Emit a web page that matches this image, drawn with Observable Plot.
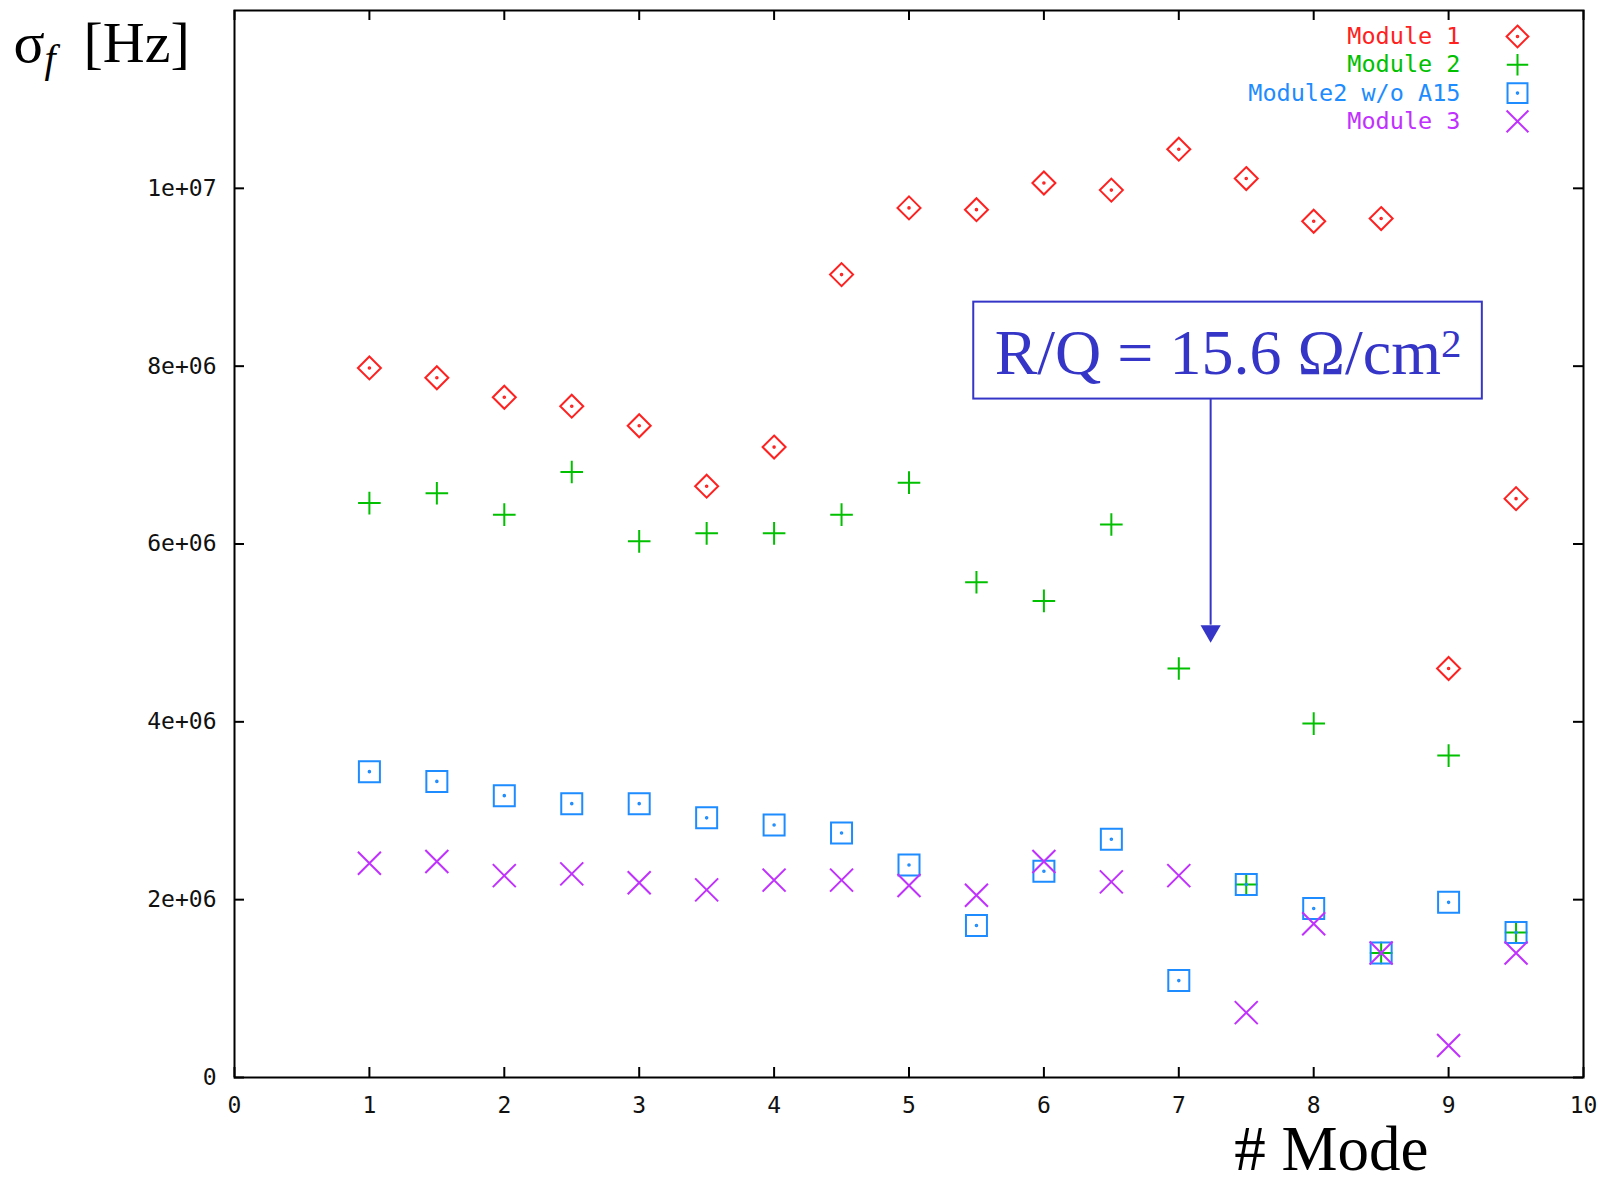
<!DOCTYPE html>
<html><head><meta charset="utf-8">
<script src="https://cdn.jsdelivr.net/npm/d3@7"></script>
<script src="https://cdn.jsdelivr.net/npm/@observablehq/plot@0.6"></script>
<style>html,body{margin:0;padding:0;background:#fff;overflow:hidden}</style>
</head><body><div id="chart"></div>
<script>
// ---- data ----
const modes = [1, 1.5, 2, 2.5, 3, 3.5, 4, 4.5, 5, 5.5, 6, 6.5, 7, 7.5, 8, 8.5, 9, 9.5];
const module1 = [7.98e6, 7.87e6, 7.65e6, 7.55e6, 7.33e6, 6.65e6, 7.09e6, 9.03e6, 9.78e6, 9.76e6, 10.06e6, 9.98e6, 10.44e6, 10.11e6, 9.63e6, 9.66e6, 4.60e6, 6.51e6];
const module2 = [6.46e6, 6.57e6, 6.33e6, 6.81e6, 6.03e6, 6.12e6, 6.12e6, 6.33e6, 6.69e6, 5.57e6, 5.36e6, 6.22e6, 4.60e6, 2.17e6, 3.98e6, 1.40e6, 3.62e6, 1.63e6];
const module2woA15 = [3.44e6, 3.33e6, 3.17e6, 3.08e6, 3.08e6, 2.92e6, 2.84e6, 2.75e6, 2.39e6, 1.71e6, 2.32e6, 2.68e6, 1.09e6, 2.17e6, 1.90e6, 1.40e6, 1.97e6, 1.63e6];
const module3 = [2.41e6, 2.43e6, 2.27e6, 2.29e6, 2.19e6, 2.11e6, 2.22e6, 2.22e6, 2.16e6, 2.05e6, 2.43e6, 2.20e6, 2.27e6, 0.73e6, 1.73e6, 1.40e6, 0.36e6, 1.40e6];
const seriesNames = ["Module 1", "Module 2", "Module2 w/o A15", "Module 3"];
const seriesColors = ["#ff2020", "#00c000", "#1e8cff", "#c030ff"];
const xTicks = [0, 1, 2, 3, 4, 5, 6, 7, 8, 9, 10];
const yTicks = [0, 2e6, 4e6, 6e6, 8e6, 1e7];
const yTickLabels = ["0", "2e+06", "4e+06", "6e+06", "8e+06", "1e+07"];
const yTitle = ["σ", "f", "[Hz]"];
const xTitle = "# Mode";
const annotationText = "R/Q = 15.6 Ω/cm";
const annotationSup = "2";
// annotation box and arrow, in data units (mode, Hz)
const annotBox = {x1: 5.48, x2: 9.25, y1: 7.63e6, y2: 8.72e6};
const annotArrow = {x: 7.236, yFrom: 7.63e6, yTo: 4.93e6};

// ---- symbols (gnuplot style) ----
const centerDot = (c) => { c.moveTo(0.8, 0); c.arc(0, 0, 0.8, 0, 2 * Math.PI); };
const rad = (size) => Math.sqrt(size / Math.PI);
const symDiamond = {draw(c, size) { const r = rad(size); c.moveTo(0, -r); c.lineTo(r, 0); c.lineTo(0, r); c.lineTo(-r, 0); c.closePath(); centerDot(c); }};
const symPlus = {draw(c, size) { const r = rad(size); c.moveTo(-r, 0); c.lineTo(r, 0); c.moveTo(0, -r); c.lineTo(0, r); }};
const symSquare = {draw(c, size) { const r = rad(size); c.moveTo(-r, -r); c.lineTo(r, -r); c.lineTo(r, r); c.lineTo(-r, r); c.closePath(); centerDot(c); }};
const symTimes = {draw(c, size) { const r = rad(size); c.moveTo(-r, -r); c.lineTo(r, r); c.moveTo(r, -r); c.lineTo(-r, r); }};
const symbols = [symDiamond, symPlus, symSquare, symTimes];
const symRadius = [11.5, 11.3, 10.5, 11.5];

const seriesValues = [module1, module2, module2woA15, module3];
const tables = seriesValues.map(vals => modes.map((m, i) => ({mode: m, value: vals[i]})));

const W = 1598, H = 1181;
const mL = 234, mR = 15, mT = 10, mB = 104;
const frameH = H - mT - mB, frameW = W - mL - mR;
const tickLen = 10;
const monoFont = "'DejaVu Sans Mono', 'Liberation Mono', monospace";
const serifFont = "'Liberation Serif', 'DejaVu Serif', serif";
const annotColor = "#3535c8";

const marks = [];
// ticks (inward, mirrored)
marks.push(Plot.tickX(xTicks, {x: d => d, stroke: "black", strokeWidth: 2, insetTop: frameH - tickLen}));
marks.push(Plot.tickX(xTicks, {x: d => d, stroke: "black", strokeWidth: 2, insetBottom: frameH - tickLen}));
marks.push(Plot.tickY(yTicks, {y: d => d, stroke: "black", strokeWidth: 2, insetRight: frameW - tickLen}));
marks.push(Plot.tickY(yTicks, {y: d => d, stroke: "black", strokeWidth: 2, insetLeft: frameW - tickLen}));
// axis labels
marks.push(Plot.axisX(xTicks, {tickSize: 0, tickPadding: 19, fontSize: 23, fontFamily: monoFont, fill: "#111", tickFormat: d => String(d)}));
marks.push(Plot.axisY(yTicks, {tickSize: 0, tickPadding: 18, fontSize: 23, fontFamily: monoFont, fill: "#111", tickFormat: d => yTickLabels[yTicks.indexOf(d)]}));
// data
seriesValues.forEach((vals, k) => {
  marks.push(Plot.dot(tables[k], {x: "mode", y: "value", symbol: symbols[k], r: symRadius[k], stroke: seriesColors[k], strokeWidth: 2, fill: "none"}));
});
// legend
seriesNames.forEach((name, k) => {
  const dy = 26 + k * 28.3;
  marks.push(Plot.text([name], {frameAnchor: "top-right", dx: -123, dy, text: d => d, textAnchor: "end", lineAnchor: "middle", fill: seriesColors[k], fontSize: 23.5, fontFamily: monoFont}));
  marks.push(Plot.dot([name], {frameAnchor: "top-right", dx: -66, dy, symbol: symbols[k], r: symRadius[k] * 0.95, stroke: seriesColors[k], strokeWidth: 2, fill: "none"}));
});
// annotation
marks.push(Plot.rect([annotBox], {x1: "x1", x2: "x2", y1: "y1", y2: "y2", fill: "white", stroke: annotColor, strokeWidth: 2}));
marks.push(Plot.text([annotationText], {x: (annotBox.x1 + annotBox.x2) / 2, y: (annotBox.y1 + annotBox.y2) / 2, text: d => d, fontFamily: serifFont, fontSize: 64, fill: annotColor, lineAnchor: "middle", dy: 3}));
marks.push(Plot.ruleX([annotArrow], {x: "x", y1: "yFrom", y2: "yTo", stroke: annotColor, strokeWidth: 2, insetBottom: 14}));
marks.push(Plot.dot([annotArrow], {x: "x", y: "yTo", symbol: "triangle", r: 7.5, rotate: 180, fill: annotColor, dy: -8}));
// titles
marks.push(Plot.text([yTitle[0]], {frameAnchor: "top-left", dx: -221, dy: 51, text: d => d, textAnchor: "start", lineAnchor: "bottom", fontFamily: serifFont, fontSize: 58, fill: "black"}));
marks.push(Plot.text([yTitle[1]], {frameAnchor: "top-left", dx: -190, dy: 61, text: d => d, textAnchor: "start", lineAnchor: "bottom", fontFamily: serifFont, fontSize: 40, fontStyle: "italic", fill: "black"}));
marks.push(Plot.text([yTitle[2]], {frameAnchor: "top-left", dx: -151, dy: 51, text: d => d, textAnchor: "start", lineAnchor: "bottom", fontFamily: serifFont, fontSize: 58, fill: "black"}));
marks.push(Plot.text([xTitle], {frameAnchor: "bottom-right", dx: -155, dy: 92, text: d => d, textAnchor: "end", lineAnchor: "bottom", fontFamily: serifFont, fontSize: 63, fill: "black"}));
marks.push(Plot.frame({stroke: "black", strokeWidth: 2}));

const chart = Plot.plot({
  width: W, height: H,
  marginLeft: mL, marginRight: mR, marginTop: mT, marginBottom: mB,
  x: {domain: [0, 10], axis: null},
  y: {domain: [0, 1.2e7], axis: null},
  style: {background: "white", overflow: "visible"},
  marks
});
// superscript "2" on the annotation text
d3.select(chart).selectAll("text")
  .filter(function() { return this.textContent === annotationText; })
  .each(function() {
    d3.select(this).append("tspan").attr("dy", "-0.42em").attr("font-size", "0.64em").text(annotationSup);
  });
document.getElementById("chart").appendChild(chart);
</script>
</body></html>
